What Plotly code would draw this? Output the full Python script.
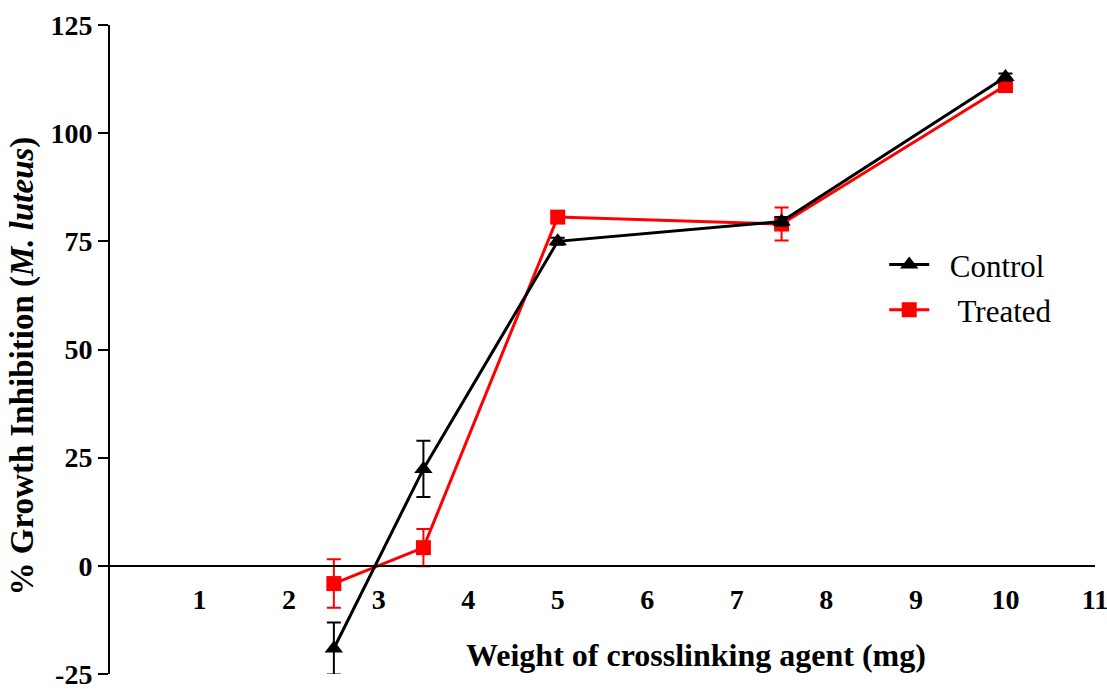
import plotly.graph_objects as go

weights = [2.5, 3.5, 5, 7.5, 10]
control = [-19.1, 22.4, 75.0, 79.6, 113.0]
control_err = [6.0, 6.5, 0.8, 1.0, 0.8]
treated = [-4.1, 4.2, 80.6, 79.0, 111.0]
treated_err = [5.6, 4.3, 0.8, 3.8, 0.8]
x_ticks = list(range(1, 12))
y_ticks = [-25, 0, 25, 50, 75, 100, 125]
y_ticktext = ["-25", "0", "25", "50", "75", "100", "125"]

FONT = "Liberation Serif"
NB = "\u00a0"

fig = go.Figure()
fig.add_trace(go.Scatter(
    x=weights, y=treated, name=NB * 3 + "Treated", mode="lines+markers",
    line=dict(color="#ff0000", width=3),
    marker=dict(symbol="square", size=15, color="#ff0000"),
    error_y=dict(type="data", array=treated_err, color="#ff0000", thickness=2, width=7),
    legendrank=2, legendgroup="t",
))
fig.add_trace(go.Scatter(
    x=weights, y=control, name=NB * 2 + "Control", mode="lines+markers",
    line=dict(color="#000000", width=3),
    marker=dict(symbol="triangle-up", size=16, color="#000000"),
    error_y=dict(type="data", array=control_err, color="#000000", thickness=2, width=7),
    legendrank=1, legendgroup="c",
))

fig.update_layout(
    width=1107, height=689,
    margin=dict(l=110, r=12, t=25, b=15, autoexpand=False),
    plot_bgcolor="white", paper_bgcolor="white",
    font=dict(family=FONT, color="black"),
    showlegend=True,
    legend=dict(x=0.786, y=0.672, xanchor="left", yanchor="top",
                font=dict(family=FONT, size=31), bgcolor="rgba(0,0,0,0)",
                itemwidth=40, traceorder="grouped", tracegroupgap=2),
    xaxis=dict(range=[0, 11], tickvals=x_ticks, showgrid=False, zeroline=False,
               anchor="free", position=25/150, showline=True, linecolor="black", linewidth=2,
               ticks="outside", ticklen=9, tickcolor="rgba(0,0,0,0)",
               automargin=False, ticklabeloverflow="allow",
               tickfont=dict(family=FONT, size=28, color="black", weight="bold")),
    yaxis=dict(range=[-25, 125], tickvals=y_ticks, ticktext=y_ticktext,
               showgrid=False, zeroline=False,
               showline=True, linecolor="black", linewidth=2,
               ticks="outside", ticklen=10, tickwidth=2, tickcolor="black",
               automargin=False, ticklabeloverflow="allow",
               tickfont=dict(family=FONT, size=28, color="black", weight="bold")),
)

fig.add_annotation(
    text="<b>% Growth Inhibition (<i>M. luteus</i>)</b>", xref="paper", yref="paper",
    x=-0.0893, y=0.474, xanchor="center", yanchor="middle", textangle=-90, showarrow=False,
    font=dict(family=FONT, size=33, color="black"),
)
fig.add_annotation(
    text="<b>Weight of crosslinking agent (mg)</b>", xref="paper", yref="paper",
    x=0.595, y=-0.002, yanchor="bottom", showarrow=False,
    font=dict(family=FONT, size=32, color="black"),
)

fig.write_html("out.html")
